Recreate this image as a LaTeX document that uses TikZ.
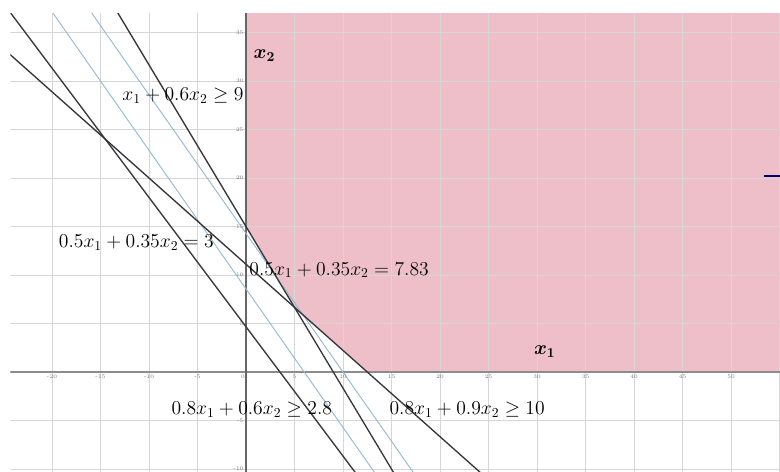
\documentclass[tikz,border=0pt]{standalone}
\usepackage{xcolor}
\usepackage{amsmath}
\usepackage{amssymb}
\usetikzlibrary{positioning}

\definecolor{feasiblepink}{RGB}{238,190,201}
\definecolor{levelblue}{RGB}{150,188,206}
\definecolor{bounddark}{RGB}{55,55,60}

\begin{document}
\begin{tikzpicture}[
  x=0.25cm, y=0.25cm,
  font=\Large,
  gridline/.style={draw=black!16, line width=0.55pt},
  axisline/.style={draw=black!60, line width=0.8pt},
  bound/.style={draw=bounddark, line width=1pt},
  level/.style={draw=levelblue, line width=0.7pt},
  feasible/.style={fill=feasiblepink},
  tick/.style={font=\fontsize{4}{4}\selectfont, text=black!55, inner sep=0.6pt},
  lbl/.style={inner sep=0pt},
  axlbl/.style={inner sep=0pt, font=\Large\boldmath}
]
  \useasboundingbox (-25.36,-10.21) rectangle (55.05,38.35);

  % feasible region
  \fill[feasible] (0,37) -- (55.05,37) -- (55.05,0) -- (12.5,0) -- (5,20/3) -- (0,15) -- cycle;

  \begin{scope}
    \clip (-24.3,-10.21) rectangle (55.05,37);
    % grid
    \foreach \gx in {-20,-15,...,55}
      \draw[gridline] (\gx,-11) -- (\gx,38);
    \foreach \gy in {-10,-5,...,35}
      \draw[gridline] (-25,\gy) -- (56,\gy);
    % axes
    \draw[axisline, draw=black!45] (-25,0) -- (56,0);
    \draw[axisline] (0,-11) -- (0,38);
    % objective lines
    \draw[level] ({(3-0.35*38)/0.5},38) -- ({(3+0.35*11)/0.5},-11);
    \draw[level] ({(5-0.35*38)/0.5},38) -- ({(5+0.35*11)/0.5},-11);
    % constraints
    \draw[bound] ({9-0.6*38},38) -- ({9+0.6*11},-11);
    \draw[bound] ({(2.8-0.6*38)/0.8},38) -- ({(2.8+0.6*11)/0.8},-11);
    \draw[bound] ({(10-0.9*38)/0.8},38) -- ({(10+0.9*11)/0.8},-11);
  \end{scope}

  % tick labels
  \foreach \gx in {-20,-15,-10,-5,5,10,...,50}
    \node[tick, anchor=north] (xt\gx) at (\gx,-0.15) {\gx};
  \foreach \gy in {-10,-5,5,10,...,35}
    \node[tick, anchor=east] (yt\gy) at (-0.15,\gy) {\gy};
  \node[tick, anchor=north east] (orig) at (0,-0.15) {0};

  % marker at the right edge
  \draw[draw=blue!45!black, line width=2pt] (53.4,20.2) -- (55.05,20.2);

  % labels
  \node[axlbl] (x2lbl) at (1.9,32.6) {$x_2$};
  \node[axlbl] (x1lbl) at (30.8,2.1) {$x_1$};
  \node[lbl] (cA) at (-6.5,28.5) {$x_1 + 0.6x_2 \geq 9$};
  \node[lbl] (objA) at (-11.3,13.3) {$0.5x_1 + 0.35x_2 = 3$};
  \node[lbl] (objB) at (9.6,10.5) {$0.5x_1 + 0.35x_2 = 7.83$};
  \node[lbl] (cB) at (0.6,-3.9) {$0.8x_1 + 0.6x_2 \geq 2.8$};
  \node[lbl] (cC) at (22.8,-3.9) {$0.8x_1 + 0.9x_2 \geq 10$};
\end{tikzpicture}
\end{document}
